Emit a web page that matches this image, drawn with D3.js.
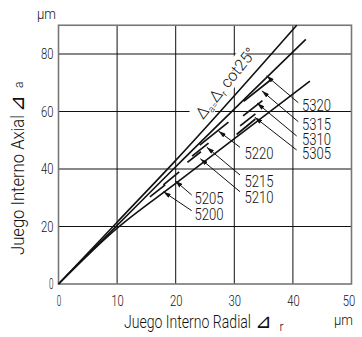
<!DOCTYPE html>
<html><head><meta charset="utf-8">
<script src="https://cdn.jsdelivr.net/npm/d3@7"></script>
<style>
body{margin:0;background:#fff}
text{font-family:Roboto,"Liberation Sans",sans-serif;font-weight:300;fill:#111}
</style></head><body>
<svg id="c" width="362" height="337"></svg>
<script>
// ---- data ----
const xTicks=[0,10,20,30,40,50];
const yTicks=[0,20,40,60,80];
const xTitle="Juego Interno Radial";
const yTitle="Juego Interno Axial";
const unit="μm";
// long clearance lines (radial, axial)
const lineA=[[0,0],[10,21.5],[20,43],[40.65,90]];
const lineB=[[0,0],[10,20.4],[20,40.8],[42.2,85.1]];
const lineC=[[0,0],[10,19.4],[20,35],[42.9,70.6]];
// bearing labels and arrow tips (radial, axial)
const bearings=["5320","5315","5310","5305","5220","5215","5210","5205","5200"];
const tipR=[35.5,34.7,33.9,33.5,27.3,25.3,24.2,19.9,17.9];
const tipA=[72.4,67.2,62.9,58.0,53.2,47.6,43.6,35.9,32.1];
// short range segments (r1,a1,r2,a2)
const segs=[[31.6,63.5,36.4,71.3],[31.5,58.5,34.8,63.8],[31,55,33.6,59.2],[30.4,52,33.6,57.4],[24.1,48.3,29,56.3],[22.8,44.5,25.6,49],[22,42.3,24.3,46],[17.9,34.5,20.6,39],[15.6,30.3,18.2,34.5]];
// ---- layout ----
const labelPos=[[302,110.5],[302,129.5],[302,144.5],[302,159],[244.5,159],[244.5,186.5],[244.5,203],[194.5,204],[194.5,220]];
const leadStart=[[298.3,102.7],[298.3,121.7],[296.7,136],[296.7,150],[240,147.3],[240,175],[240,191.7],[191.7,195],[191.7,210.7]];

const svg=d3.select('#c');
const x=d3.scaleLinear().domain([0,50]).range([58.5,351.5]);
const y=d3.scaleLinear().domain([0,90]).range([284,25.25]);

const defs=svg.append('defs');
defs.append('marker').attr('id','ar').attr('viewBox','0 0 10 6').attr('refX',10).attr('refY',3)
 .attr('markerWidth',8).attr('markerHeight',4.5).attr('markerUnits','userSpaceOnUse').attr('orient','auto')
 .append('path').attr('d','M0,0L10,3L0,6Z').attr('fill','#111');

// grid
const g=svg.append('g');
g.selectAll('.vx').data(xTicks.slice(1,-1)).join('line').attr('x1',d=>x(d)).attr('x2',d=>x(d))
 .attr('y1',y(0)).attr('y2',y(90)).attr('stroke','#111').attr('stroke-width',1);
g.selectAll('.hy').data(yTicks.slice(1)).join('line').attr('y1',d=>y(d)).attr('y2',d=>y(d))
 .attr('x1',x(0)).attr('x2',x(50)).attr('stroke','#111').attr('stroke-width',1);

// axes tick labels
const tickFont='Roboto,"Liberation Sans",sans-serif';
const ax=svg.append('g').attr('transform',`translate(0,${y(0)})`).call(d3.axisBottom(x).tickValues(xTicks).tickSize(0).tickPadding(11));
ax.select('.domain').remove();
ax.selectAll('text').attr('font-size',15).style('font-family',tickFont).style('font-weight',300)
 .attr('textLength',d=>d===0?4.5:12.5).attr('lengthAdjust','spacingAndGlyphs').attr('dx',d=>d===50?-3:0);
const ay=svg.append('g').attr('transform',`translate(${x(0)},0)`).call(d3.axisLeft(y).tickValues(yTicks).tickSize(0).tickPadding(5));
ay.select('.domain').remove();
ay.selectAll('text').attr('font-size',15).style('font-family',tickFont).style('font-weight',300)
 .attr('textLength',d=>d===0?4.5:12.5).attr('lengthAdjust','spacingAndGlyphs');

// frame
svg.append('rect').attr('x',x(0)).attr('y',y(90)).attr('width',x(50)-x(0)).attr('height',y(0)-y(90))
 .attr('fill','none').attr('stroke','#777').attr('stroke-width',1.6);

// formula label with white background
const fl=svg.append('g').attr('transform',`translate(203,120) rotate(-51)`);
fl.append('rect').attr('x',-2).attr('y',-16).attr('width',80).attr('height',20).attr('fill','#fff');
const ft=fl.append('text').attr('font-size',16).attr('x',0).attr('y',0);
ft.append('tspan').text('Δ');
ft.append('tspan').text('a').attr('font-size',9.5).attr('dy',3);
ft.append('tspan').text('=').attr('font-size',9.5);
ft.append('tspan').text('Δ').attr('font-size',16).attr('dy',-3);
ft.append('tspan').text('r').attr('font-size',9.5).attr('dy',3);
ft.append('tspan').text(' cot25°').attr('font-size',16).attr('dy',-3);

// lines
const ln=d3.line().x(d=>x(d[0])).y(d=>y(d[1])).curve(d3.curveMonotoneX);
[lineA,lineB,lineC].forEach(l=>svg.append('path').attr('d',ln(l)).attr('fill','none').attr('stroke','#111').attr('stroke-width',1.6));
svg.selectAll('.sg').data(segs).join('line').attr('x1',d=>x(d[0])).attr('y1',d=>y(d[1])).attr('x2',d=>x(d[2])).attr('y2',d=>y(d[3]))
 .attr('stroke','#111').attr('stroke-width',1.7);

// leaders and labels
bearings.forEach((b,i)=>{
  svg.append('line').attr('x1',leadStart[i][0]).attr('y1',leadStart[i][1]).attr('x2',x(tipR[i])).attr('y2',y(tipA[i]))
   .attr('stroke','#111').attr('stroke-width',1).attr('marker-end','url(#ar)');
  svg.append('text').attr('x',labelPos[i][0]).attr('y',labelPos[i][1]).attr('font-size',16).attr('textLength',29).attr('lengthAdjust','spacingAndGlyphs').text(b);
});

// axis titles
const xt=svg.append('text').attr('x',124).attr('y',327.5).attr('font-size',18);
xt.append('tspan').text(xTitle).attr('textLength',127).attr('lengthAdjust','spacingAndGlyphs');
svg.append('text').attr('x',255).attr('y',327.5).attr('font-size',20).text('⊿');
svg.append('text').attr('x',279.5).attr('y',331).attr('font-size',12).text('r');
svg.append('text').attr('x',334).attr('y',325).attr('font-size',15).attr('textLength',19).attr('lengthAdjust','spacingAndGlyphs').text(unit);
svg.append('text').attr('x',37).attr('y',19).attr('font-size',15).attr('textLength',19).attr('lengthAdjust','spacingAndGlyphs').text(unit);

const yg=svg.append('g').attr('transform','translate(24,255) rotate(-90)');
yg.append('text').attr('font-size',18).text(yTitle).attr('textLength',140).attr('lengthAdjust','spacingAndGlyphs');
yg.append('text').attr('x',143).attr('font-size',20).text('⊿');
yg.append('text').attr('x',167).attr('y',-1).attr('font-size',12).text('a');
</script></body></html>
